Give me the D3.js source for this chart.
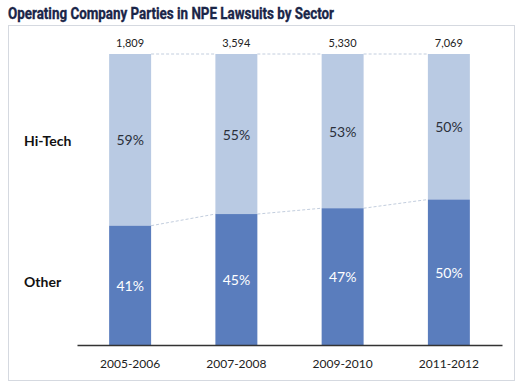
<!DOCTYPE html>
<html>
<head>
<meta charset="utf-8">
<script src="https://cdn.jsdelivr.net/npm/d3@7"></script>
<style>
    body { margin: 0; background: #fff; }
    svg { display: block; }
</style>
</head>
<body>
<div id="chart"></div>
<script>
const periods = ["2005-2006", "2007-2008", "2009-2010", "2011-2012"];
const totals = [1809, 3594, 5330, 7069];
const otherShare = [41, 45, 47, 50];
const hiTechShare = [59, 55, 53, 50];
const sectors = ["Hi-Tech", "Other"];

const svgW = 531;
const svgH = 390;
const labelFont = "Lato, 'Open Sans', sans-serif";

const svg = d3.select("#chart")
.append("svg")
.attr("width", svgW)
.attr("height", svgH);

// panel frame
svg.append("rect")
.attr("x", 8.5)
.attr("y", 25.5)
.attr("width", 506)
.attr("height", 355)
.attr("fill", "none")
.attr("stroke", "#d5d9e0");

const title = svg.append("text")
.text("Operating Company Parties in NPE Lawsuits by Sector")
.attr("x", 8)
.attr("y", 19)
.style("font-family", "'Liberation Sans Narrow', 'Roboto', sans-serif")
.style("font-weight", "bold")
.style("font-size", "16px")
.attr("fill", "#1a2548")
.attr("stroke", "#1a2548")
.attr("stroke-width", 0.35);
// squeeze title to the width it has in the source
title.attr("textLength", 326).attr("lengthAdjust", "spacingAndGlyphs");

const xScale = d3.scaleBand()
.domain(periods)
.range([77, 502])
.paddingInner(0.605)
.paddingOuter(0.3025);

const yScale = d3.scaleLinear()
.domain([0, 100])
.range([345, 54]);

const bw = xScale.bandwidth();

const rows = periods.map((p, i) => ({
    period: p,
    total: totals[i],
    other: otherShare[i],
    hiTech: hiTechShare[i]
}));

// dashed connectors
const dash = svg.append("g")
.attr("stroke", "#c3cede")
.attr("stroke-width", 1)
.attr("stroke-dasharray", "3,2")
.attr("fill", "none");

rows.slice(0, -1).forEach((d, i) => {
    const n = rows[i + 1];
    dash.append("line")
    .attr("x1", xScale(d.period) + bw)
    .attr("x2", xScale(n.period))
    .attr("y1", yScale(100))
    .attr("y2", yScale(100));
    dash.append("line")
    .attr("x1", xScale(d.period) + bw)
    .attr("x2", xScale(n.period))
    .attr("y1", yScale(d.other))
    .attr("y2", yScale(n.other));
});

// hi-tech (light) segments
svg.selectAll("rect.hitech")
.data(rows)
.enter()
.append("rect")
.attr("class", "hitech")
.attr("x", d => xScale(d.period))
.attr("width", bw)
.attr("y", yScale(100))
.attr("height", d => yScale(d.other) - yScale(100))
.attr("fill", "#b9cae3");

// other (dark) segments
svg.selectAll("rect.other")
.data(rows)
.enter()
.append("rect")
.attr("class", "other")
.attr("x", d => xScale(d.period))
.attr("width", bw)
.attr("y", d => yScale(d.other))
.attr("height", d => yScale(0) - yScale(d.other))
.attr("fill", "#5a7dbd");

// percentage labels
svg.selectAll("text.pct-hi")
.data(rows)
.enter()
.append("text")
.attr("class", "pct-hi")
.text(d => d.hiTech + "%")
.attr("x", d => xScale(d.period) + bw / 2)
.attr("y", d => (yScale(100) + yScale(d.other)) / 2)
.attr("dy", "0.4em")
.style("text-anchor", "middle")
.style("font-family", labelFont)
.style("font-size", "14px")
.attr("fill", "#2a2f3a");

svg.selectAll("text.pct-other")
.data(rows)
.enter()
.append("text")
.attr("class", "pct-other")
.text(d => d.other + "%")
.attr("x", d => xScale(d.period) + bw / 2)
.attr("y", d => (yScale(0) + yScale(d.other)) / 2)
.attr("dy", "0.4em")
.style("text-anchor", "middle")
.style("font-family", labelFont)
.style("font-size", "14px")
.attr("fill", "#ffffff");

// totals above bars
const fmt = d3.format(",");
svg.selectAll("text.total")
.data(rows)
.enter()
.append("text")
.attr("class", "total")
.text(d => fmt(d.total))
.attr("x", d => xScale(d.period) + bw / 2)
.attr("y", yScale(100) - 7)
.style("text-anchor", "middle")
.style("font-family", labelFont)
.style("font-size", "11px")
.attr("fill", "#222");

// x axis
const xAxis = svg.append("g")
.attr("transform", `translate(0, ${yScale(0)})`)
.call(d3.axisBottom(xScale).tickSize(0).tickPadding(14));

xAxis.select(".domain")
.attr("stroke", "#333")
.attr("stroke-width", 1.5);

xAxis.selectAll("text")
.style("font-family", labelFont)
.style("font-size", "12px")
.attr("fill", "#222");

// sector labels on the left
svg.selectAll("text.sector")
.data(sectors)
.enter()
.append("text")
.attr("class", "sector")
.text(d => d)
.attr("x", 24)
.attr("y", d => d === "Hi-Tech" ? 146 : 287)
.style("font-family", labelFont)
.style("font-weight", "bold")
.style("font-size", "14px")
.attr("fill", "#111");
</script>
</body>
</html>
